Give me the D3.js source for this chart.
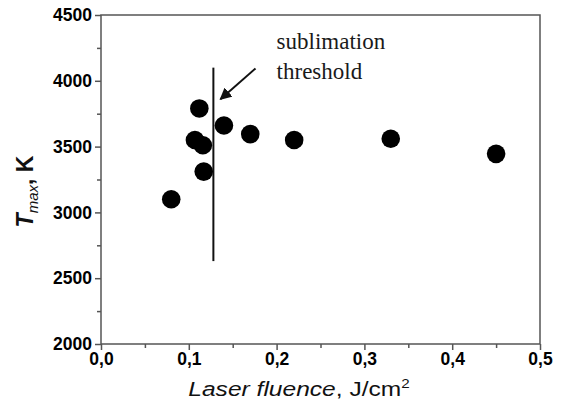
<!DOCTYPE html>
<html>
<head>
<meta charset="utf-8">
<script src="https://cdn.jsdelivr.net/npm/d3@7"></script>
<style>
  body { margin: 0; background: #fff; }
</style>
</head>
<body>
<div id="chart"></div>
<script>
// data
const fluence = [0.08, 0.112, 0.107, 0.116, 0.117, 0.14, 0.17, 0.22, 0.33, 0.45];
const tmax = [3100, 3790, 3550, 3510, 3310, 3660, 3595, 3550, 3560, 3445];
const xTicks = [0, 0.1, 0.2, 0.3, 0.4, 0.5];
const yTicks = [2000, 2500, 3000, 3500, 4000, 4500];
const threshold = { x: 0.128, y0: 2630, y1: 4100 };
const arrowFrom = [0.176, 4094];
const arrowTo = [0.136, 3860];

const width = 564;
const height = 407;
const margin = { top: 15, right: 24, bottom: 63, left: 101 };
const innerWidth = width - margin.left - margin.right;
const innerHeight = height - margin.top - margin.bottom;

const svg = d3.select("#chart")
  .append("svg")
  .attr("width", width)
  .attr("height", height)
  .style("font-family", "Liberation Sans, Arial, sans-serif");

const defs = svg.append("defs");
defs.append("marker")
  .attr("id", "head")
  .attr("viewBox", "0 0 10 10")
  .attr("refX", 9)
  .attr("refY", 5)
  .attr("markerWidth", 6)
  .attr("markerHeight", 6)
  .attr("markerUnits", "strokeWidth")
  .attr("orient", "auto")
  .append("path")
  .attr("d", "M0,0 L10,5 L0,10 Z")
  .attr("fill", "#111");

const x = d3.scaleLinear().domain([0, 0.5]).range([0, innerWidth]);
const y = d3.scaleLinear().domain([2000, 4500]).range([innerHeight, 0]);

const g = svg.append("g")
  .attr("transform", `translate(${margin.left},${margin.top})`);

// frame
g.append("rect")
  .attr("width", innerWidth)
  .attr("height", innerHeight)
  .attr("fill", "none")
  .attr("stroke", "#555")
  .attr("stroke-width", 1.5);

const fmt = (d) => d3.format(".1f")(d).replace(".", ",");

// minor ticks
const xMinor = d3.axisBottom(x).tickValues(d3.range(0.05, 0.5, 0.1)).tickSize(4).tickFormat("");
const yMinor = d3.axisLeft(y).tickValues(d3.range(2250, 4500, 500)).tickSize(4).tickFormat("");

const xAxis = d3.axisBottom(x).tickValues(xTicks).tickSize(6).tickPadding(3).tickFormat(fmt);
const yAxis = d3.axisLeft(y).tickValues(yTicks).tickSize(6).tickPadding(3).tickFormat(d3.format("d"));

[
  [xMinor, `translate(0,${innerHeight})`, true],
  [yMinor, null, true],
  [xAxis, `translate(0,${innerHeight})`, false],
  [yAxis, null, false]
].forEach(([ax, tr, minor]) => {
  const a = g.append("g").call(ax);
  if (tr) a.attr("transform", tr);
  a.select(".domain").remove();
  a.selectAll("line").attr("stroke", "#555").attr("stroke-width", 1.5);
  if (minor) {
    a.selectAll("text").remove();
    return;
  }
  a.selectAll("text")
    .attr("fill", "#000")
    .style("font-family", "Liberation Sans, Arial, sans-serif")
    .style("font-size", "17.5px")
    .style("font-weight", "700");
});

// threshold line
g.append("line")
  .attr("x1", x(threshold.x))
  .attr("x2", x(threshold.x))
  .attr("y1", y(threshold.y0))
  .attr("y2", y(threshold.y1))
  .attr("stroke", "#111")
  .attr("stroke-width", 2);

// arrow
g.append("line")
  .attr("x1", x(arrowFrom[0]))
  .attr("y1", y(arrowFrom[1]))
  .attr("x2", x(arrowTo[0]))
  .attr("y2", y(arrowTo[1]))
  .attr("stroke", "#111")
  .attr("stroke-width", 2)
  .attr("marker-end", "url(#head)");

// points
g.selectAll("circle")
  .data(fluence.map((f, i) => ({ f, t: tmax[i] })))
  .enter()
  .append("circle")
  .attr("cx", (d) => x(d.f))
  .attr("cy", (d) => y(d.t))
  .attr("r", 9.3)
  .attr("fill", "#000");

// annotation
const note = g.append("text")
  .attr("x", x(0.2))
  .attr("y", 34)
  .attr("fill", "#1a1a1a")
  .style("font-family", "Liberation Serif, Times New Roman, serif")
  .style("font-size", "23px");
note.append("tspan").attr("x", x(0.2)).text("sublimation");
note.append("tspan").attr("x", x(0.2)).attr("dy", 30).text("threshold");

// x label (slightly wide, as in the original)
const xl = svg.append("g")
  .attr("transform", "translate(299,396) scale(1.17,1)")
  .append("text")
  .attr("text-anchor", "middle")
  .attr("fill", "#111")
  .style("font-size", "21px");
xl.append("tspan").style("font-style", "italic").text("Laser fluence");
xl.append("tspan").text(", J/cm");
xl.append("tspan").attr("dy", -8).style("font-size", "13px").text("2");

// y label
const yl = svg.append("text")
  .attr("transform", `translate(33,${margin.top + innerHeight / 2 + 12}) rotate(-90)`)
  .attr("text-anchor", "middle")
  .attr("fill", "#111")
  .style("font-weight", "bold")
  .style("font-size", "23px");
yl.append("tspan").style("font-style", "italic").text("T");
yl.append("tspan").attr("dy", 5).style("font-style", "italic").style("font-weight", "normal").style("font-size", "15px").text("max");
yl.append("tspan").attr("dy", -5).text(", K");
</script>
</body>
</html>
